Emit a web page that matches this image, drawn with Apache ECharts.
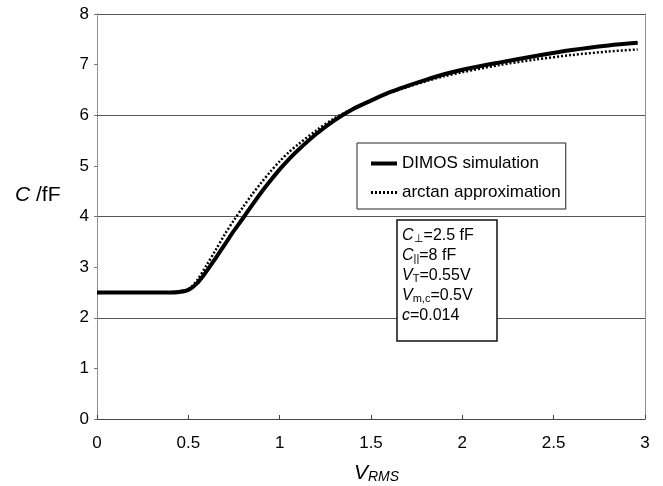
<!DOCTYPE html>
<html>
<head>
<meta charset="utf-8">
<script src="https://cdn.jsdelivr.net/npm/echarts@6/dist/echarts.min.js"></script>
<style>
  html, body { margin: 0; padding: 0; background: #fff; }
  #chart { width: 663px; height: 486px; }
</style>
</head>
<body>
<div id="chart"></div>
<script>
var chart = echarts.init(document.getElementById('chart'));

// V_RMS values (volts)
var xVals = [0, 0.1, 0.2, 0.3, 0.4, 0.45, 0.5, 0.55, 0.6, 0.65, 0.7, 0.75, 0.8, 0.85, 0.9, 0.95,
             1.0, 1.05, 1.1, 1.2, 1.3, 1.4, 1.5, 1.6, 1.7, 1.8, 1.9, 2.0, 2.2, 2.4, 2.6, 2.8, 2.96];
// C in fF
var dimosVals = [2.5, 2.5, 2.5, 2.5, 2.5, 2.51, 2.55, 2.69, 2.92, 3.18, 3.45, 3.72, 3.97, 4.23, 4.48, 4.71,
                 4.93, 5.13, 5.31, 5.63, 5.9, 6.12, 6.29, 6.45, 6.58, 6.7, 6.81, 6.9, 7.04, 7.17, 7.29, 7.38, 7.43];
var arctanVals = [2.5, 2.5, 2.5, 2.5, 2.5, 2.5, 2.56, 2.75, 3.04, 3.34, 3.65, 3.93, 4.19, 4.44, 4.67, 4.89,
                  5.09, 5.27, 5.42, 5.7, 5.94, 6.13, 6.3, 6.44, 6.56, 6.67, 6.77, 6.85, 6.99, 7.1, 7.19, 7.26, 7.3];
var xTicks = ['0', '0.5', '1', '1.5', '2', '2.5', '3'];

function pairs(ys) {
    return xVals.map(function (x, i) { return [x, ys[i]]; });
}

var font = 'Liberation Sans, Arial, sans-serif';
var solidIcon = 'path://M0,0h26v4h-26z';
var dotIcon = 'path://M0,0h2v3h-2zM4,0h2v3h-2zM8,0h2v3h-2zM12,0h2v3h-2zM16,0h2v3h-2zM20,0h2v3h-2zM24,0h2v3h-2z';

chart.setOption({
    backgroundColor: '#fff',
    animation: false,
    grid: { left: 97, right: 18, top: 14, bottom: 67 },
    legend: {
        orient: 'vertical',
        left: 357,
        top: 143,
        padding: [12, 5, 8, 14],
        itemWidth: 26,
        itemHeight: 4,
        itemGap: 12,
        backgroundColor: '#fff',
        borderColor: '#222',
        borderWidth: 1,
        textStyle: { fontFamily: font, fontSize: 17, color: '#000' },
        data: [
            { name: 'DIMOS simulation', icon: solidIcon },
            { name: 'arctan approximation', icon: dotIcon }
        ]
    },
    xAxis: {
        type: 'value',
        min: 0,
        max: 3,
        interval: 0.5,
        axisLine: { lineStyle: { color: '#444', width: 1 } },
        axisTick: { inside: true, length: 4, lineStyle: { color: '#444' } },
        axisLabel: {
            margin: 16,
            color: '#000',
            fontFamily: font,
            fontSize: 17,
            formatter: function (v) { return xTicks[Math.round(v * 2)]; }
        },
        splitLine: { show: false }
    },
    yAxis: [{
        type: 'value',
        min: 0,
        max: 8,
        interval: 1,
        axisLine: { show: true, lineStyle: { color: '#777', type: 'dotted', width: 1 } },
        axisTick: { show: true, length: 3, lineStyle: { color: '#777' } },
        axisLabel: { margin: 8, color: '#000', fontFamily: font, fontSize: 17 },
        splitLine: { show: false }
    }, {
        type: 'value',
        position: 'right',
        min: 0,
        max: 8,
        interval: 2,
        axisLine: { show: true, lineStyle: { color: '#777', type: 'dotted', width: 1 } },
        axisTick: { show: false },
        axisLabel: { show: false },
        splitLine: { show: true, lineStyle: { color: '#555', width: 1 } }
    }],
    series: [{
        name: 'DIMOS simulation',
        type: 'line',
        data: pairs(dimosVals),
        smooth: 0.3,
        symbol: 'none',
        lineStyle: { color: '#000', width: 4 },
        itemStyle: { color: '#000' },
        z: 3
    }, {
        name: 'arctan approximation',
        type: 'line',
        data: pairs(arctanVals),
        smooth: 0.3,
        symbol: 'none',
        lineStyle: { color: '#000', width: 2.5, type: [2, 2] },
        itemStyle: { color: '#000' },
        z: 4
    }],
    graphic: [{
        type: 'text',
        left: 15,
        top: 185,
        style: {
            text: '{i|C} /fF',
            fontFamily: font,
            fontSize: 21,
            fill: '#000',
            rich: { i: { fontStyle: 'italic', fontFamily: font, fontSize: 21 } }
        }
    }, {
        type: 'text',
        left: 354,
        top: 463,
        style: {
            text: '{i|V}{s|RMS}',
            fill: '#000',
            rich: {
                i: { fontStyle: 'italic', fontFamily: font, fontSize: 21, lineHeight: 24, verticalAlign: 'bottom' },
                s: { fontStyle: 'italic', fontFamily: font, fontSize: 14, lineHeight: 14, verticalAlign: 'bottom' }
            }
        }
    }, {
        type: 'rect',
        shape: { x: 397, y: 220, width: 100, height: 121 },
        style: { fill: '#fff', stroke: '#111', lineWidth: 1.5 },
        z: 10
    }, {
        type: 'text',
        left: 402,
        top: 228,
        z: 11,
        style: {
            text: [
                '{i|C}{s|⊥}{n|=2.5 fF}',
                '{i|C}{s|||}{n|=8 fF}',
                '{i|V}{s|T}{n|=0.55V}',
                '{i|V}{s|m,c}{n|=0.5V}',
                '{i|c}{n|=0.014}'
            ].join('\n'),
            fill: '#000',
            rich: {
                i: { fontStyle: 'italic', fontFamily: font, fontSize: 16, lineHeight: 20, verticalAlign: 'bottom' },
                n: { fontFamily: font, fontSize: 16, lineHeight: 20, verticalAlign: 'bottom' },
                s: { fontFamily: font, fontSize: 11, lineHeight: 15, verticalAlign: 'bottom' }
            }
        }
    }]
});
</script>
</body>
</html>
